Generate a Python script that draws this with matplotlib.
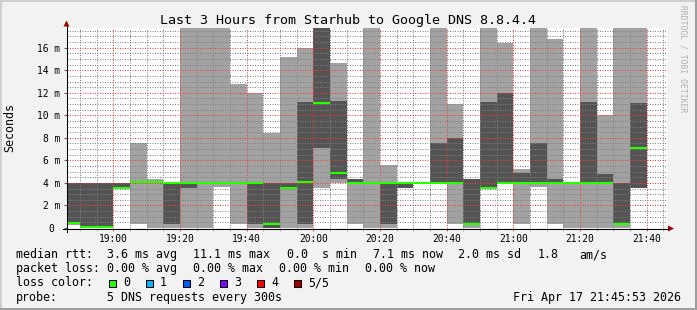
import matplotlib
matplotlib.use("Agg")
import matplotlib.pyplot as plt
from matplotlib.patches import Polygon, Rectangle
from matplotlib.ticker import FixedLocator, MultipleLocator

plt.rcParams["font.family"] = "DejaVu Sans Mono"

W, H = 697, 310

# start of each 5-minute step, minutes after 19:00
bar_start = [-15, -10, -5, 0, 5, 10, 15, 20, 25, 30, 35, 40, 45, 50, 55,
             60, 65, 70, 75, 80, 85, 90, 95, 100, 105, 110, 115, 120, 125,
             130, 135, 140, 145, 150, 155]

# sorted DNS round trips per step (ms); 20 = above the top of the chart
ping_min = [0.30, 0.00, 0.00, 3.57, 0.35, 0.00, 0.00, 0.00, 0.00, 3.60, 0.35,
            0.00, 0.00, 0.00, 0.00, 3.57, 4.00, 0.35, 0.00, 0.00, 3.57, 4.00,
            4.00, 0.35, 0.00, 3.57, 4.00, 0.35, 3.60, 0.35, 0.00, 0.00, 0.00,
            0.00, 3.57]
ping_lo = [0.35, 0.00, 0.00, 3.60, 4.00, 4.00, 0.35, 3.57, 4.00, 4.00, 4.00,
           0.35, 0.00, 3.57, 0.35, 7.08, 4.34, 4.00, 4.00, 0.35, 3.57, 4.00,
           4.00, 4.00, 0.35, 3.57, 4.00, 4.00, 4.00, 4.00, 4.00, 4.00, 4.00,
           0.35, 3.57]
median = [0.40, 0.05, 0.05, 3.58, 4.04, 4.04, 4.02, 4.02, 4.02, 4.02, 4.02,
          4.02, 0.38, 3.58, 4.04, 11.09, 4.84, 4.02, 4.02, 4.02, 4.02, 4.02,
          4.02, 4.02, 0.38, 3.58, 4.02, 4.02, 4.02, 4.02, 4.02, 4.02, 4.02,
          0.38, 7.11]
ping_hi = [4.00, 4.00, 4.00, 4.00, 4.08, 4.08, 4.02, 4.02, 4.05, 4.05, 4.05,
           4.02, 4.00, 4.00, 11.15, 20.0, 11.24, 4.34, 4.05, 4.02, 4.00, 4.03,
           7.52, 7.96, 4.34, 11.15, 11.95, 4.87, 7.52, 4.34, 4.03, 11.15, 4.78,
           4.00, 11.06]
ping_max = [4.00, 4.00, 4.00, 4.00, 7.52, 4.35, 4.02, 20.0, 20.0, 20.0, 12.74,
            11.98, 8.44, 15.16, 15.96, 20.0, 14.60, 4.34, 20.0, 5.58, 4.00, 4.04,
            20.0, 10.97, 4.34, 20.0, 16.40, 5.28, 20.0, 16.75, 4.04, 20.0, 10.06,
            20.0, 20.0]

x_ticks = [0, 20, 40, 60, 80, 100, 120, 140, 160]
x_labels = ["19:00", "19:20", "19:40", "20:00", "20:20", "20:40",
            "21:00", "21:20", "21:40"]
y_ticks = [0, 2, 4, 6, 8, 10, 12, 14, 16]
y_labels = ["0 ", "2 m", "4 m", "6 m", "8 m", "10 m", "12 m", "14 m", "16 m"]

title = "Last 3 Hours from Starhub to Google DNS 8.8.4.4"
rtt_items = ["3.6 ms avg", "11.1 ms max", "0.0  s min", "7.1 ms now",
             "2.0 ms sd", "1.8", "am/s"]
loss_items = ["0.00 % avg", "0.00 % max", "0.00 % min", "0.00 % now"]
loss_labels = ["0", "1", "2", "3", "4", "5/5"]
loss_colors = ["#26ff00", "#00b8ff", "#0059ff", "#7e00ff", "#ff0000", "#a10000"]
probe_text = "5 DNS requests every 300s"
stamp = "Fri Apr 17 21:45:53 2026"

LIGHT = "#a2a2a2"
DARK = "#545454"
GREEN = "#26ff00"

fig = plt.figure(figsize=(W / 100, H / 100), dpi=100, facecolor="#f2f2f2")
ax = fig.add_axes([67 / W, 1 - 228 / H, 600 / W, 200 / H])
ax.set_facecolor("white")

# smoke: full spread light, inner spread dark, median on top
bar_end = [s + 5 for s in bar_start]
ax.bar(bar_start, [b - a for a, b in zip(ping_min, ping_max)], width=5,
       bottom=ping_min, align="edge", color=LIGHT, linewidth=0,
       antialiased=False, zorder=1)
ax.bar(bar_start, [b - a for a, b in zip(ping_lo, ping_hi)], width=5,
       bottom=ping_lo, align="edge", color=DARK, linewidth=0,
       antialiased=False, zorder=1.1)
ax.hlines(median, bar_start, bar_end, colors=GREEN, linewidth=1.5, zorder=3)

ax.set_xlim(-13.9, 166.1)
ax.set_ylim(0, 17.75)
ax.xaxis.set_major_locator(FixedLocator(x_ticks))
ax.xaxis.set_minor_locator(MultipleLocator(5))
ax.yaxis.set_major_locator(FixedLocator(y_ticks))
ax.yaxis.set_minor_locator(MultipleLocator(0.5))
ax.set_xticklabels(x_labels)
ax.set_yticklabels(y_labels)
ax.tick_params(labelsize=6.9)
ax.tick_params(axis="x", which="major", length=2, width=0.8, color="#e06060", pad=2.5)
ax.tick_params(axis="x", which="minor", length=2, width=0.8, color="#b0b0b0")
ax.tick_params(axis="y", which="major", length=2, width=0.8, color="#606060", pad=3)
ax.tick_params(axis="y", which="minor", length=0)

# rrdtool-like dotted grid drawn over the smoke
ax.set_axisbelow(False)
ax.grid(which="minor", color=(0.5, 0.5, 0.5, 0.28), linestyle=(0, (1, 1.5)),
        linewidth=0.72)
ax.grid(which="major", color=(1.0, 0.2, 0.2, 0.3), linestyle=(0, (1, 1.5)),
        linewidth=0.72)
for sp in ax.spines.values():
    sp.set_visible(False)

ax.set_ylabel("Seconds", fontsize=8.4)
ax.yaxis.set_label_coords(-0.085, 0.5)

# overlay in pixel units for frame, axis arrows and legend
ov = fig.add_axes([0, 0, 1, 1])
ov.set_xlim(0, W)
ov.set_ylim(H, 0)
ov.axis("off")

ov.add_patch(Rectangle((0, 0), W, 2, color="#cfcfcf", lw=0))
ov.add_patch(Rectangle((0, 0), 2, H, color="#cfcfcf", lw=0))
ov.add_patch(Rectangle((0, H - 2), W, 2, color="#9e9e9e", lw=0))
ov.add_patch(Rectangle((W - 2, 0), 2, H, color="#9e9e9e", lw=0))

ov.plot([63, 668], [228.5, 228.5], color="black", lw=0.75)
ov.plot([66.5, 66.5], [232, 26], color="black", lw=0.75)
ov.add_patch(Polygon([(668, 225.5), (668, 231.5), (674, 228.5)], color="#a00000", lw=0))
ov.add_patch(Polygon([(63.5, 26.5), (69.5, 26.5), (66.5, 20.5)], color="#a00000", lw=0))

ov.text(348.5, 24, title, ha="center", va="baseline", fontsize=9.6)
ov.text(683, 5, "RRDTOOL / TOBI OETIKER", rotation=-90, ha="center", va="top",
        fontsize=5.8, color="#b0b0b0")

fs = 8.37
rows = [258, 272.2, 286.4, 300.6]
ov.text(16, rows[0], "median rtt:", va="baseline", fontsize=fs)
for x, t in zip([107.3, 193.3, 286.7, 372.7, 458.3, 537.3, 579], rtt_items):
    ov.text(x, rows[0], t, va="baseline", fontsize=fs)
ov.text(16, rows[1], "packet loss:", va="baseline", fontsize=fs)
for x, t in zip([107.3, 193.3, 279.3, 365.3], loss_items):
    ov.text(x, rows[1], t, va="baseline", fontsize=fs)
ov.text(16, rows[2], "loss color:", va="baseline", fontsize=fs)
for i, (lab, col) in enumerate(zip(loss_labels, loss_colors)):
    bx = 108 + 37 * i
    ov.add_patch(Rectangle((bx + 0.5, 279.5), 7, 7, facecolor=col,
                           edgecolor="black", lw=0.75))
    ov.text(bx + 15, rows[2], lab, va="baseline", fontsize=fs)
ov.text(16, rows[3], "probe:", va="baseline", fontsize=fs)
ov.text(107.3, rows[3], probe_text, va="baseline", fontsize=fs)
ov.text(681, rows[3], stamp, ha="right", va="baseline", fontsize=fs)

fig.savefig("out.png", dpi=100, facecolor=fig.get_facecolor())
